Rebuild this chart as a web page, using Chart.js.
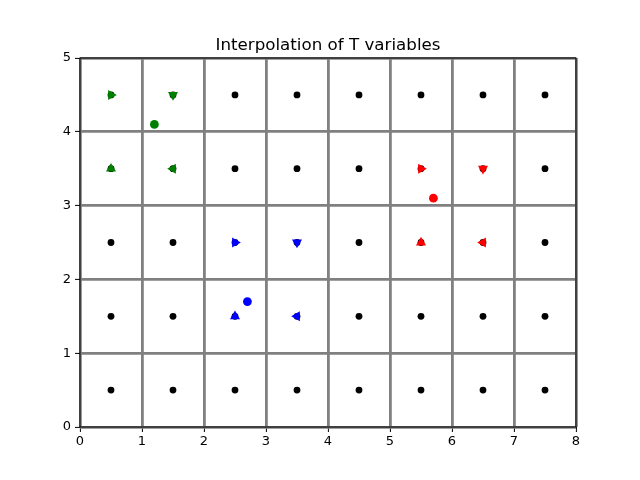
<!DOCTYPE html>
<html><head><meta charset="utf-8">
<script src="https://cdn.jsdelivr.net/npm/chart.js@4/dist/chart.umd.min.js"></script>
<style>html,body{margin:0;padding:0;background:#fff}#wrap{width:640px;height:480px}</style>
</head><body><div id="wrap"><canvas id="c" width="640" height="480"></canvas></div>
<script>
const titleText = "Interpolation of T variables";
const xTicks = [0,1,2,3,4,5,6,7,8];
const yTicks = [0,1,2,3,4,5];
const gridX = [0.5,1.5,2.5,3.5,4.5,5.5,6.5,7.5];
const gridY = [0.5,1.5,2.5,3.5,4.5];
// triangle markers: [x, y, direction]
const greenTri = [[0.5,4.5,'right'],[1.5,4.5,'down'],[0.5,3.5,'up'],[1.5,3.5,'left']];
const redTri = [[5.5,3.5,'right'],[6.5,3.5,'down'],[5.5,2.5,'up'],[6.5,2.5,'left']];
const blueTri = [[2.5,2.5,'right'],[3.5,2.5,'down'],[2.5,1.5,'up'],[3.5,1.5,'left']];
const greenPoint = [1.2, 4.1];
const redPoint = [5.7, 3.1];
const bluePoint = [2.7, 1.7];

const rot = {up:0, right:90, down:180, left:270};
const dots = [];
gridY.forEach(y => gridX.forEach(x => dots.push({x, y})));

function triSet(arr, color){
  return {
    data: arr.map(p => ({x:p[0], y:p[1]})),
    pointStyle: 'triangle',
    rotation: arr.map(p => rot[p[2]]),
    pointRadius: 5.8,
    backgroundColor: color, borderColor: color, borderWidth: 0,
    showLine: false, order: 5
  };
}
function ptSet(p, color){
  return {data:[{x:p[0], y:p[1]}], pointStyle:'circle', pointRadius:4.4,
    backgroundColor: color, borderColor: color, borderWidth:0, showLine:false, order: 1};
}

const frame = {
  id: 'frame',
  beforeDatasetsDraw(chart){
    const a = chart.chartArea, ctx = chart.ctx;
    ctx.save(); ctx.strokeStyle = '#000'; ctx.lineWidth = 1;
    ctx.strokeRect(a.left, a.top, a.right - a.left, a.bottom - a.top);
    ctx.restore();
  },
  afterDraw(chart){
    const a = chart.chartArea, ctx = chart.ctx;
    ctx.save(); ctx.fillStyle = '#000';
    ctx.font = "16.7px 'DejaVu Sans', sans-serif";
    ctx.textAlign = 'center'; ctx.textBaseline = 'alphabetic';
    ctx.fillText(titleText, (a.left + a.right) / 2, a.top - 8);
    ctx.restore();
  }
};

Chart.defaults.font.family = "'DejaVu Sans', sans-serif";
new Chart(document.getElementById('c'), {
  type: 'scatter',
  data: { datasets: [
    {data: dots, pointStyle:'circle', pointRadius:3.4, backgroundColor:'#000', borderWidth:0, order: 10},
    triSet(greenTri, 'green'), triSet(redTri, 'red'), triSet(blueTri, 'blue'),
    ptSet(greenPoint, 'green'), ptSet(redPoint, 'red'), ptSet(bluePoint, 'blue')
  ]},
  options: {
    responsive: false, animation: false,
    layout: {padding: {left: 0, right: 64, top: 58, bottom: 0}},
    plugins: {
      legend: {display:false}, tooltip: {enabled:false}, title: {display:false}
    },
    scales: {
      x: {
        type:'linear', min:0, max:8,
        afterBuildTicks(s){ s.ticks = xTicks.map(v => ({value:v})); },
        afterFit(s){ s.height = 53; },
        grid: {color:'#808080', lineWidth:2.8, tickColor:'#000', tickLength:5, tickWidth:1},
        border: {display:false},
        ticks: {color:'#000', font:{size:13}, padding:2, maxRotation:0}
      },
      y: {
        type:'linear', min:0, max:5,
        afterBuildTicks(s){ s.ticks = yTicks.map(v => ({value:v})); },
        afterFit(s){ s.width = 80; },
        grid: {color:'#808080', lineWidth:2.8, tickColor:'#000', tickLength:5, tickWidth:1},
        border: {display:false},
        ticks: {color:'#000', font:{size:13}, padding:4}
      }
    }
  },
  plugins: [frame]
});
</script></body></html>
